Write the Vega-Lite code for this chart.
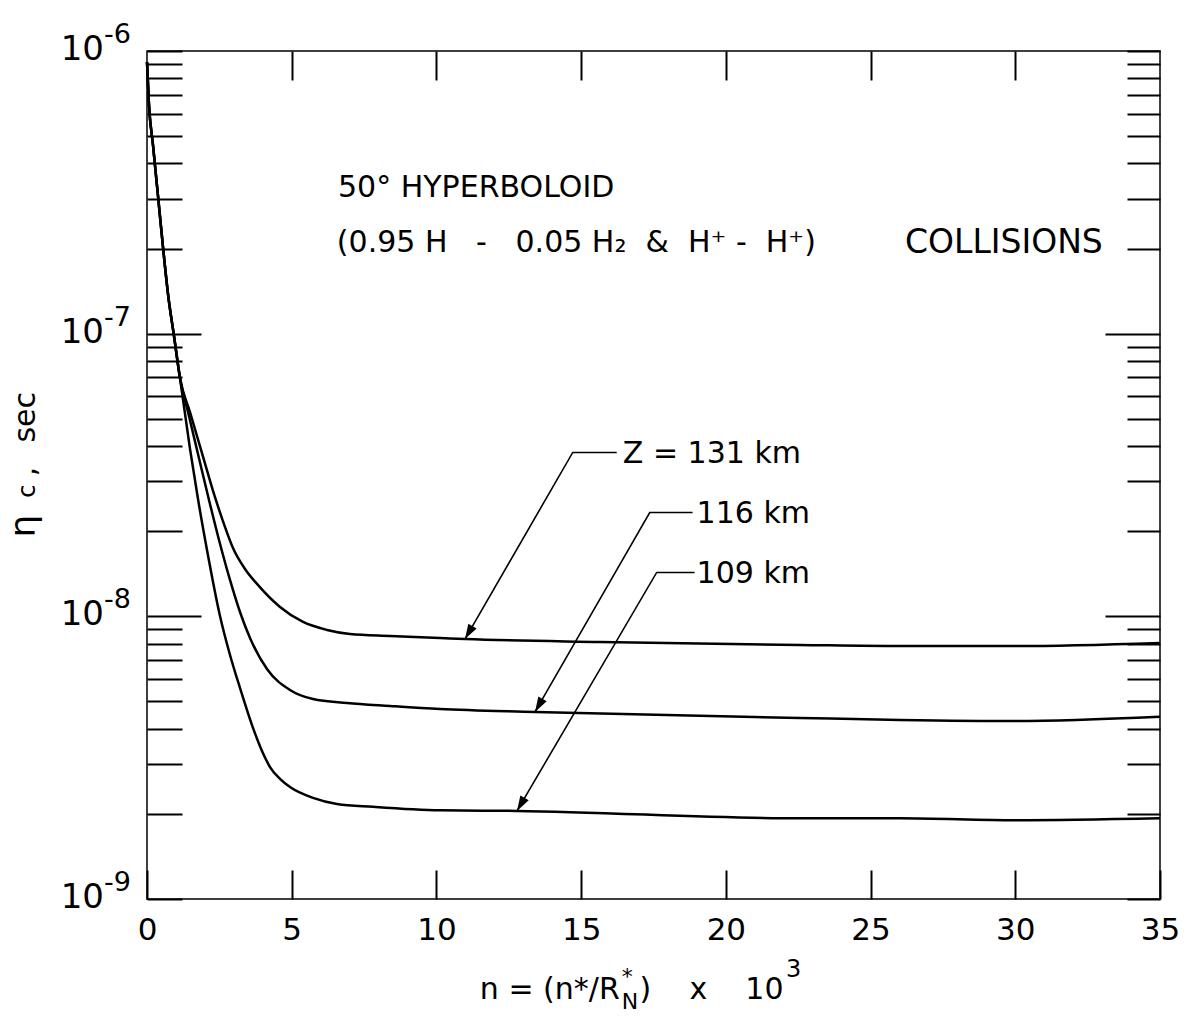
{
  "$schema": "https://vega.github.io/schema/vega-lite/v6.json",
  "width": 1013,
  "height": 848,
  "autosize": {"type": "none"},
  "padding": {"left": 147, "top": 51, "right": 26, "bottom": 122},
  "background": "white",
  "config": {
    "view": {"stroke": "black", "strokeWidth": 1.5},
    "font": "DejaVu Sans",
    "axis": {"domain": false, "grid": false, "tickColor": "black", "tickWidth": 2, "labelColor": "black", "labelFont": "DejaVu Sans", "title": null},
    "text": {"color": "black", "font": "DejaVu Sans"}
  },
  "datasets": {
    "curves": [
      {"z": "131 km", "n": 0, "eta": 9.14e-7},
      {"z": "131 km", "n": 0.069, "eta": 6.44e-7},
      {"z": "131 km", "n": 0.207, "eta": 4.65e-7},
      {"z": "131 km", "n": 0.38, "eta": 3.07e-7},
      {"z": "131 km", "n": 0.553, "eta": 2.025e-7},
      {"z": "131 km", "n": 0.726, "eta": 1.381e-7},
      {"z": "131 km", "n": 0.933, "eta": 9.81e-8},
      {"z": "131 km", "n": 1.14, "eta": 6.97e-8},
      {"z": "131 km", "n": 1.486, "eta": 5.28e-8},
      {"z": "131 km", "n": 1.9, "eta": 3.78e-8},
      {"z": "131 km", "n": 2.349, "eta": 2.64e-8},
      {"z": "131 km", "n": 2.66, "eta": 2.12e-8},
      {"z": "131 km", "n": 2.971, "eta": 1.745e-8},
      {"z": "131 km", "n": 3.386, "eta": 1.471e-8},
      {"z": "131 km", "n": 3.801, "eta": 1.302e-8},
      {"z": "131 km", "n": 4.595, "eta": 1.079e-8},
      {"z": "131 km", "n": 5.39, "eta": 9.55e-9},
      {"z": "131 km", "n": 6.219, "eta": 8.95e-9},
      {"z": "131 km", "n": 7.014, "eta": 8.66e-9},
      {"z": "131 km", "n": 8.396, "eta": 8.52e-9},
      {"z": "131 km", "n": 10.123, "eta": 8.38e-9},
      {"z": "131 km", "n": 10.987, "eta": 8.31e-9},
      {"z": "131 km", "n": 15.652, "eta": 8.11e-9},
      {"z": "131 km", "n": 22.562, "eta": 7.92e-9},
      {"z": "131 km", "n": 26.017, "eta": 7.85e-9},
      {"z": "131 km", "n": 30.025, "eta": 7.85e-9},
      {"z": "131 km", "n": 35, "eta": 8.05e-9},
      {"z": "116 km", "n": 0, "eta": 9.14e-7},
      {"z": "116 km", "n": 0.069, "eta": 6.44e-7},
      {"z": "116 km", "n": 0.207, "eta": 4.65e-7},
      {"z": "116 km", "n": 0.38, "eta": 3.07e-7},
      {"z": "116 km", "n": 0.553, "eta": 2.025e-7},
      {"z": "116 km", "n": 0.726, "eta": 1.381e-7},
      {"z": "116 km", "n": 0.933, "eta": 9.81e-8},
      {"z": "116 km", "n": 1.14, "eta": 6.97e-8},
      {"z": "116 km", "n": 1.417, "eta": 5.28e-8},
      {"z": "116 km", "n": 1.728, "eta": 3.88e-8},
      {"z": "116 km", "n": 2.142, "eta": 2.58e-8},
      {"z": "116 km", "n": 2.488, "eta": 1.863e-8},
      {"z": "116 km", "n": 2.868, "eta": 1.345e-8},
      {"z": "116 km", "n": 3.213, "eta": 1.036e-8},
      {"z": "116 km", "n": 3.559, "eta": 8.38e-9},
      {"z": "116 km", "n": 4.146, "eta": 6.51e-9},
      {"z": "116 km", "n": 4.941, "eta": 5.49e-9},
      {"z": "116 km", "n": 5.735, "eta": 5.1e-9},
      {"z": "116 km", "n": 6.91, "eta": 4.94e-9},
      {"z": "116 km", "n": 8.396, "eta": 4.82e-9},
      {"z": "116 km", "n": 10.123, "eta": 4.7e-9},
      {"z": "116 km", "n": 13.406, "eta": 4.59e-9},
      {"z": "116 km", "n": 22.562, "eta": 4.37e-9},
      {"z": "116 km", "n": 26.017, "eta": 4.3e-9},
      {"z": "116 km", "n": 30.025, "eta": 4.26e-9},
      {"z": "116 km", "n": 35, "eta": 4.41e-9},
      {"z": "109 km", "n": 0, "eta": 9.14e-7},
      {"z": "109 km", "n": 0.069, "eta": 6.44e-7},
      {"z": "109 km", "n": 0.207, "eta": 4.65e-7},
      {"z": "109 km", "n": 0.38, "eta": 3.07e-7},
      {"z": "109 km", "n": 0.553, "eta": 2.025e-7},
      {"z": "109 km", "n": 0.726, "eta": 1.381e-7},
      {"z": "109 km", "n": 0.933, "eta": 9.81e-8},
      {"z": "109 km", "n": 1.14, "eta": 6.97e-8},
      {"z": "109 km", "n": 1.486, "eta": 3.91e-8},
      {"z": "109 km", "n": 1.762, "eta": 2.6e-8},
      {"z": "109 km", "n": 2.073, "eta": 1.717e-8},
      {"z": "109 km", "n": 2.522, "eta": 1.003e-8},
      {"z": "109 km", "n": 2.868, "eta": 7.3e-9},
      {"z": "109 km", "n": 3.213, "eta": 5.58e-9},
      {"z": "109 km", "n": 3.662, "eta": 4.03e-9},
      {"z": "109 km", "n": 3.973, "eta": 3.34e-9},
      {"z": "109 km", "n": 4.25, "eta": 2.93e-9},
      {"z": "109 km", "n": 4.595, "eta": 2.66e-9},
      {"z": "109 km", "n": 4.941, "eta": 2.49e-9},
      {"z": "109 km", "n": 5.735, "eta": 2.28e-9},
      {"z": "109 km", "n": 6.565, "eta": 2.17e-9},
      {"z": "109 km", "n": 7.809, "eta": 2.12e-9},
      {"z": "109 km", "n": 10.123, "eta": 2.06e-9},
      {"z": "109 km", "n": 12.784, "eta": 2.05e-9},
      {"z": "109 km", "n": 22.562, "eta": 1.93e-9},
      {"z": "109 km", "n": 26.017, "eta": 1.93e-9},
      {"z": "109 km", "n": 30.025, "eta": 1.9e-9},
      {"z": "109 km", "n": 35, "eta": 1.93e-9}
    ],
    "leaders": [
      {"z": "131 km", "step": 0, "n": 16.23, "eta": 3.8e-8},
      {"z": "131 km", "step": 1, "n": 14.71, "eta": 3.8e-8},
      {"z": "131 km", "step": 2, "n": 10.987, "eta": 8.31e-9},
      {"z": "116 km", "step": 0, "n": 18.85, "eta": 2.33e-8},
      {"z": "116 km", "step": 1, "n": 17.37, "eta": 2.33e-8},
      {"z": "116 km", "step": 2, "n": 13.406, "eta": 4.59e-9},
      {"z": "109 km", "step": 0, "n": 18.92, "eta": 1.43e-8},
      {"z": "109 km", "step": 1, "n": 17.61, "eta": 1.43e-8},
      {"z": "109 km", "step": 2, "n": 12.784, "eta": 2.05e-9}
    ],
    "tips": [
      {"z": "131 km", "n": 10.987, "eta": 8.31e-9},
      {"z": "116 km", "n": 13.406, "eta": 4.59e-9},
      {"z": "109 km", "n": 12.784, "eta": 2.05e-9}
    ],
    "labels": [
      {"label": "Z = 131 km", "n": 16.44, "eta": 3.74e-8},
      {"label": "116 km", "n": 18.99, "eta": 2.31e-8},
      {"label": "109 km", "n": 18.99, "eta": 1.41e-8}
    ],
    "decades": [
      {"eta": 1e-6, "exp": "-6"},
      {"eta": 1e-7, "exp": "-7"},
      {"eta": 1e-8, "exp": "-8"},
      {"eta": 1e-9, "exp": "-9"}
    ],
    "one": [{}]
  },
  "layer": [
    {
      "data": {"name": "curves"},
      "mark": {"type": "line", "color": "black", "strokeWidth": 2.5, "interpolate": "monotone"},
      "encoding": {
        "x": {
          "field": "n", "type": "quantitative",
          "scale": {"domain": [0, 35], "nice": false, "zero": false},
          "axis": {"orient": "bottom", "values": [0, 5, 10, 15, 20, 25, 30, 35], "tickSize": -29, "labelPadding": 45, "labelFontSize": 31, "labelFlush": false, "labelOverlap": false}
        },
        "y": {
          "field": "eta", "type": "quantitative",
          "scale": {"type": "log", "domain": [1e-9, 1e-6], "nice": false},
          "axis": {
            "orient": "left", "labels": false,
            "values": [1e-9, 2e-9, 3e-9, 4e-9, 5e-9, 6e-9, 7e-9, 8e-9, 9e-9, 1e-8, 2e-8, 3e-8, 4e-8, 5e-8, 6e-8, 7e-8, 8e-8, 9e-8, 1e-7, 2e-7, 3e-7, 4e-7, 5e-7, 6e-7, 7e-7, 8e-7, 9e-7, 1e-6],
            "tickSize": {"condition": {"test": "datum.value == 1e-7 || datum.value == 1e-8", "value": -54}, "value": -35}
          }
        },
        "detail": {"field": "z"}
      }
    },
    {
      "data": {"name": "leaders"},
      "mark": {"type": "line", "color": "black", "strokeWidth": 1.6},
      "encoding": {
        "x": {
          "field": "n", "type": "quantitative",
          "axis": {"orient": "top", "labels": false, "values": [5, 10, 15, 20, 25, 30], "tickSize": -29}
        },
        "y": {
          "field": "eta", "type": "quantitative",
          "axis": {
            "orient": "right", "labels": false,
            "values": [1e-9, 2e-9, 3e-9, 4e-9, 5e-9, 6e-9, 7e-9, 8e-9, 9e-9, 1e-8, 2e-8, 3e-8, 4e-8, 5e-8, 6e-8, 7e-8, 8e-8, 9e-8, 1e-7, 2e-7, 3e-7, 4e-7, 5e-7, 6e-7, 7e-7, 8e-7, 9e-7, 1e-6],
            "tickSize": {"condition": {"test": "datum.value == 1e-7 || datum.value == 1e-8", "value": -55}, "value": -33}
          }
        },
        "detail": {"field": "z"},
        "order": {"field": "step"}
      }
    },
    {
      "data": {"name": "tips"},
      "mark": {"type": "point", "shape": "M0,0L-0.32,-1L0.32,-1Z", "size": 900, "angle": 30, "filled": true, "color": "black", "opacity": 1},
      "encoding": {
        "x": {"field": "n", "type": "quantitative", "axis": null},
        "y": {"field": "eta", "type": "quantitative", "axis": null}
      }
    },
    {
      "data": {"name": "labels"},
      "mark": {"type": "text", "align": "left", "baseline": "middle", "fontSize": 30},
      "encoding": {
        "x": {"field": "n", "type": "quantitative", "axis": null},
        "y": {"field": "eta", "type": "quantitative", "axis": null},
        "text": {"field": "label"}
      }
    },
    {
      "data": {"name": "decades"},
      "mark": {"type": "text", "align": "right", "baseline": "middle", "fontSize": 34, "dx": -43, "dy": -1},
      "encoding": {
        "x": {"datum": 0, "axis": null},
        "y": {"field": "eta", "type": "quantitative", "axis": null},
        "text": {"value": "10"}
      }
    },
    {
      "data": {"name": "decades"},
      "mark": {"type": "text", "align": "left", "baseline": "alphabetic", "fontSize": 27, "dx": -43, "dy": -8},
      "encoding": {
        "x": {"datum": 0, "axis": null},
        "y": {"field": "eta", "type": "quantitative", "axis": null},
        "text": {"field": "exp"}
      }
    },
    {
      "data": {"name": "one"},
      "mark": {"type": "text", "align": "left", "baseline": "middle", "fontSize": 30},
      "encoding": {
        "x": {"datum": 6.6, "axis": null},
        "y": {"datum": 3.28e-7, "axis": null},
        "text": {"value": "50° HYPERBOLOID"}
      }
    },
    {
      "data": {"name": "one"},
      "mark": {"type": "text", "align": "left", "baseline": "middle", "fontSize": 30},
      "encoding": {
        "x": {"datum": 6.56, "axis": null},
        "y": {"datum": 2.1e-7, "axis": null},
        "text": {"value": "(0.95\u00a0H\u00a0\u00a0\u00a0-\u00a0\u00a0\u00a00.05\u00a0H₂\u00a0\u00a0&\u00a0\u00a0H⁺\u00a0-\u00a0\u00a0H⁺)"}
      }
    },
    {
      "data": {"name": "one"},
      "mark": {"type": "text", "align": "left", "baseline": "middle", "fontSize": 33},
      "encoding": {
        "x": {"datum": 26.19, "axis": null},
        "y": {"datum": 2.1e-7, "axis": null},
        "text": {"value": "COLLISIONS"}
      }
    },
    {
      "data": {"name": "one"},
      "mark": {"type": "text", "align": "left", "baseline": "alphabetic", "angle": 270, "fontSize": 36},
      "encoding": {
        "x": {"datum": -3.87, "axis": null},
        "y": {"datum": 1.9e-8, "axis": null},
        "text": {"value": "η"}
      }
    },
    {
      "data": {"name": "one"},
      "mark": {"type": "text", "align": "left", "baseline": "alphabetic", "angle": 270, "fontSize": 24},
      "encoding": {
        "x": {"datum": -3.87, "axis": null},
        "y": {"datum": 2.63e-8, "axis": null},
        "text": {"value": "c"}
      }
    },
    {
      "data": {"name": "one"},
      "mark": {"type": "text", "align": "left", "baseline": "alphabetic", "angle": 270, "fontSize": 30},
      "encoding": {
        "x": {"datum": -3.87, "axis": null},
        "y": {"datum": 3.13e-8, "axis": null},
        "text": {"value": ","}
      }
    },
    {
      "data": {"name": "one"},
      "mark": {"type": "text", "align": "left", "baseline": "alphabetic", "angle": 270, "fontSize": 30},
      "encoding": {
        "x": {"datum": -3.87, "axis": null},
        "y": {"datum": 4.12e-8, "axis": null},
        "text": {"value": "sec"}
      }
    },
    {
      "data": {"name": "one"},
      "mark": {"type": "text", "align": "left", "baseline": "alphabetic", "fontSize": 30},
      "encoding": {
        "x": {"datum": 11.5, "axis": null},
        "y": {"datum": 4.44e-10, "axis": null},
        "text": {"value": "n = (n*/R"}
      }
    },
    {
      "data": {"name": "one"},
      "mark": {"type": "text", "align": "left", "baseline": "alphabetic", "fontSize": 22},
      "encoding": {
        "x": {"datum": 16.4, "axis": null},
        "y": {"datum": 5.0e-10, "axis": null},
        "text": {"value": "*"}
      }
    },
    {
      "data": {"name": "one"},
      "mark": {"type": "text", "align": "left", "baseline": "alphabetic", "fontSize": 22},
      "encoding": {
        "x": {"datum": 16.4, "axis": null},
        "y": {"datum": 4.08e-10, "axis": null},
        "text": {"value": "N"}
      }
    },
    {
      "data": {"name": "one"},
      "mark": {"type": "text", "align": "left", "baseline": "alphabetic", "fontSize": 30},
      "encoding": {
        "x": {"datum": 17.02, "axis": null},
        "y": {"datum": 4.44e-10, "axis": null},
        "text": {"value": ")\u00a0\u00a0\u00a0\u00a0x\u00a0\u00a0\u00a0\u00a010"}
      }
    },
    {
      "data": {"name": "one"},
      "mark": {"type": "text", "align": "left", "baseline": "alphabetic", "fontSize": 24},
      "encoding": {
        "x": {"datum": 22.08, "axis": null},
        "y": {"datum": 5.3e-10, "axis": null},
        "text": {"value": "3"}
      }
    }
  ],
  "resolve": {"axis": {"x": "independent", "y": "independent"}}
}
